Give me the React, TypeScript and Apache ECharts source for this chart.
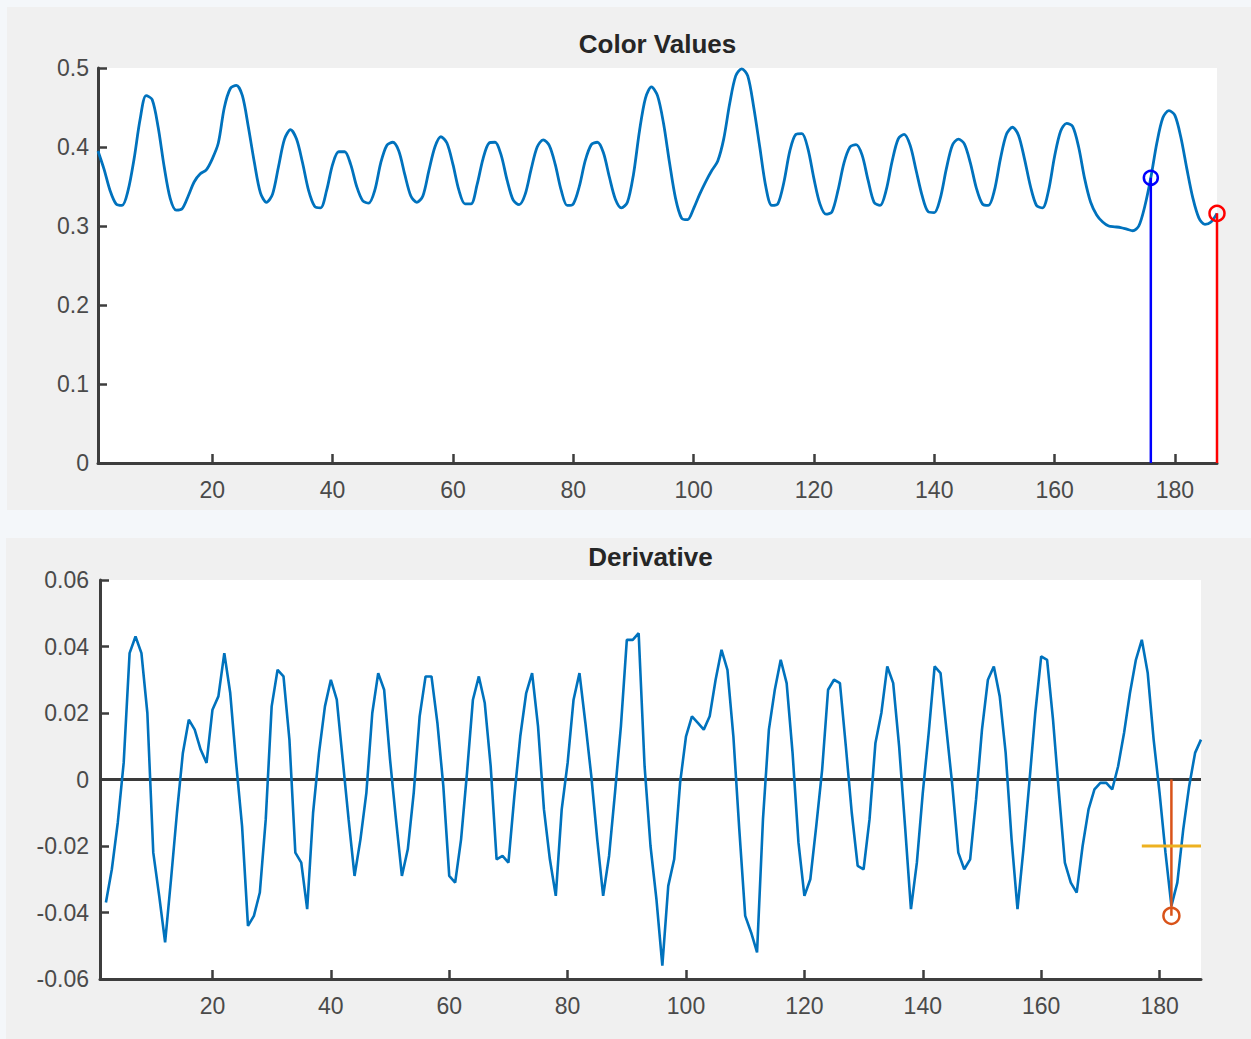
import { useEffect, useRef } from "react";
import * as echarts from "echarts";

// ---- data ----
const colorValues: number[] = [
  0.395, 0.372, 0.345, 0.328, 0.326, 0.345, 0.385, 0.435, 0.465, 0.46,
  0.425, 0.375, 0.335, 0.32, 0.322, 0.338, 0.356, 0.366, 0.371, 0.385,
  0.405, 0.45, 0.474, 0.478, 0.465, 0.425, 0.38, 0.342, 0.33, 0.34,
  0.375, 0.41, 0.422, 0.41, 0.38, 0.345, 0.325, 0.323, 0.345, 0.378,
  0.394, 0.394, 0.378, 0.35, 0.332, 0.329, 0.345, 0.38, 0.402, 0.406,
  0.395, 0.365, 0.338, 0.33, 0.338, 0.37, 0.4, 0.413, 0.405, 0.378,
  0.345, 0.328, 0.328, 0.352, 0.385, 0.405, 0.406, 0.39, 0.358, 0.333,
  0.327, 0.34, 0.372, 0.4, 0.409, 0.402, 0.378, 0.345, 0.326, 0.328,
  0.35, 0.383, 0.403, 0.406, 0.393, 0.362, 0.334, 0.323, 0.33, 0.365,
  0.42, 0.462, 0.476, 0.465, 0.43, 0.38, 0.335, 0.31, 0.308, 0.322,
  0.34, 0.356, 0.37, 0.382, 0.41, 0.455, 0.49, 0.499, 0.49, 0.45,
  0.4, 0.35, 0.326, 0.328, 0.355, 0.395, 0.416, 0.417, 0.398, 0.36,
  0.328, 0.315, 0.318, 0.345, 0.38, 0.4, 0.403, 0.39, 0.358, 0.33,
  0.326, 0.345, 0.382, 0.41, 0.416, 0.402, 0.37, 0.338, 0.318, 0.317,
  0.335, 0.372, 0.402, 0.41, 0.404, 0.38, 0.348, 0.328, 0.326, 0.345,
  0.385, 0.416, 0.425, 0.415, 0.385, 0.35, 0.326, 0.323, 0.345, 0.388,
  0.42, 0.43, 0.426, 0.4, 0.36, 0.33, 0.314, 0.305, 0.3, 0.299,
  0.298, 0.296, 0.294, 0.3, 0.325, 0.361, 0.405, 0.437, 0.446, 0.44,
  0.412, 0.372, 0.335, 0.31, 0.302, 0.305, 0.316,
];
const colorStartIndex = 1;

const derivValues: number[] = [
  -0.037, -0.027, -0.013, 0.005, 0.038, 0.043, 0.038, 0.02, -0.022, -0.035,
  -0.049, -0.03, -0.01, 0.008, 0.018, 0.015, 0.009, 0.005, 0.021, 0.025,
  0.038, 0.026, 0.005, -0.014, -0.044, -0.041, -0.034, -0.012, 0.022, 0.033,
  0.031, 0.012, -0.022, -0.025, -0.039, -0.01, 0.008, 0.022, 0.03, 0.024,
  0.006, -0.012, -0.029, -0.018, -0.004, 0.02, 0.032, 0.027, 0.006, -0.012,
  -0.029, -0.021, -0.004, 0.019, 0.031, 0.031, 0.017, -0.002, -0.029, -0.031,
  -0.018, 0.002, 0.024, 0.031, 0.023, 0.004, -0.024, -0.023, -0.025, -0.005,
  0.013, 0.026, 0.032, 0.016, -0.009, -0.024, -0.035, -0.009, 0.005, 0.024,
  0.032, 0.017, 0.001, -0.018, -0.035, -0.023, -0.004, 0.016, 0.042, 0.042,
  0.044, 0.004, -0.02, -0.036, -0.056, -0.032, -0.024, -0.001, 0.013, 0.019,
  0.017, 0.015, 0.019, 0.03, 0.039, 0.033, 0.013, -0.015, -0.041, -0.046,
  -0.052, -0.012, 0.015, 0.027, 0.036, 0.029, 0.008, -0.019, -0.035, -0.03,
  -0.014, 0.003, 0.027, 0.03, 0.029, 0.01, -0.01, -0.026, -0.027, -0.012,
  0.011, 0.02, 0.034, 0.029, 0.01, -0.014, -0.039, -0.025, -0.004, 0.014,
  0.034, 0.032, 0.015, -0.002, -0.022, -0.027, -0.024, -0.006, 0.015, 0.03,
  0.034, 0.025, 0.008, -0.018, -0.039, -0.021, -0.001, 0.02, 0.037, 0.036,
  0.018, -0.004, -0.025, -0.031, -0.034, -0.02, -0.009, -0.003, -0.001, -0.001,
  -0.003, 0.004, 0.014, 0.026, 0.036, 0.042, 0.032, 0.012, -0.004, -0.022,
  -0.038, -0.031, -0.015, -0.002, 0.008, 0.012,
];
const derivStartIndex = 2;

const xRange = [1, 187];
const xTickValues = [20, 40, 60, 80, 100, 120, 140, 160, 180];
const colorYRange = [0, 0.5];
const colorYStep = 0.1;
const derivYRange = [-0.06, 0.06];
const derivYStep = 0.02;

const blueStemX = 176;
const redStemX = 187;
const orangeStemX = 182;
const orangeStemValue = -0.041;
const thresholdValue = -0.02;
const thresholdRange = [177, 187];

const titles = ["Color Values", "Derivative"];

// ---- styles ----
const LINE_BLUE = "#0072BD";
const AXIS_COLOR = "#3d3d3d";
const LABEL_COLOR = "#4a4a4a";
const FONT = '"Liberation Sans", Arial, Helvetica, sans-serif';

export default function App() {
  const ref = useRef<HTMLDivElement>(null);

  useEffect(() => {
    if (!ref.current) return;
    const chart = echarts.init(ref.current, undefined, { renderer: "svg" });

    const colorData = colorValues.map((v, k) => [colorStartIndex + k, v]);
    const derivData = derivValues.map((v, k) => [derivStartIndex + k, v]);
    const blueY = colorValues[blueStemX - colorStartIndex];
    const redY = colorValues[redStemX - colorStartIndex];

    const grids = [
      { left: 98, top: 68, width: 1119, height: 395 },
      { left: 100, top: 580, width: 1101, height: 399 },
    ].map((g) => ({ ...g, show: true, backgroundColor: "#ffffff", borderWidth: 0 }));

    const xAxisBase = (gridIndex: number) => ({
      type: "value",
      gridIndex,
      min: xRange[0],
      max: xRange[1],
      axisLine: { show: true, onZero: false, lineStyle: { color: AXIS_COLOR, width: 3 } },
      axisTick: {
        show: true,
        inside: true,
        length: 9,
        customValues: xTickValues,
        lineStyle: { color: AXIS_COLOR, width: 2.5 },
      },
      axisLabel: {
        show: true,
        customValues: xTickValues,
        margin: 15,
        color: LABEL_COLOR,
        fontSize: 23,
        lineHeight: 23,
        fontFamily: FONT,
      },
      splitLine: { show: false },
    });

    const yAxisBase = (gridIndex: number, range: number[], step: number, digits: number, margin: number) => ({
      type: "value",
      gridIndex,
      min: range[0],
      max: range[1],
      interval: step,
      axisLine: { show: true, onZero: false, lineStyle: { color: AXIS_COLOR, width: 3 } },
      axisTick: { show: true, inside: true, length: 9, lineStyle: { color: AXIS_COLOR, width: 2.5 } },
      axisLabel: {
        show: true,
        margin,
        color: LABEL_COLOR,
        fontSize: 23,
        fontFamily: FONT,
        formatter: (v: number) => String(Math.round(v * Math.pow(10, digits)) / Math.pow(10, digits)),
      },
      splitLine: { show: false },
    });

    const stem = (
      xAxisIndex: number,
      x: number,
      y: number,
      color: string,
      size: number
    ) => ({
      type: "line",
      xAxisIndex,
      yAxisIndex: xAxisIndex,
      data: [
        { value: [x, 0], symbol: "none" },
        { value: [x, y] },
      ],
      symbol: "circle",
      symbolSize: size,
      showSymbol: true,
      lineStyle: { color, width: 2.5 },
      itemStyle: { color: "rgba(0,0,0,0)", borderColor: color, borderWidth: 2.5 },
      emphasis: { disabled: true },
      silent: true,
      z: 4,
    });

    const option = {
      animation: false,
      backgroundColor: "#f4f7fa",
      grid: grids,
      graphic: [
        { type: "rect", z: -10, shape: { x: 7, y: 7, width: 1244, height: 503 }, style: { fill: "#f0f0f0" } },
        { type: "rect", z: -10, shape: { x: 6, y: 538, width: 1245, height: 501 }, style: { fill: "#f0f0f0" } },
        {
          type: "text",
          x: 657.5,
          y: 44,
          style: {
            text: titles[0],
            fill: "#262626",
            font: `bold 26px ${FONT}`,
            textAlign: "center",
            textVerticalAlign: "middle",
          },
        },
        {
          type: "text",
          x: 650.5,
          y: 557,
          style: {
            text: titles[1],
            fill: "#262626",
            font: `bold 26px ${FONT}`,
            textAlign: "center",
            textVerticalAlign: "middle",
          },
        },
      ],
      xAxis: [xAxisBase(0), xAxisBase(1)],
      yAxis: [
        yAxisBase(0, colorYRange, colorYStep, 1, 9),
        yAxisBase(1, derivYRange, derivYStep, 2, 11),
      ],
      series: [
        {
          type: "line",
          xAxisIndex: 0,
          yAxisIndex: 0,
          data: colorData,
          showSymbol: false,
          symbol: "none",
          smooth: 0.3,
          lineStyle: { color: LINE_BLUE, width: 2.8 },
          silent: true,
          z: 3,
        },
        stem(0, blueStemX, blueY, "#0000ff", 14),
        stem(0, redStemX, redY, "#ff0000", 15),
        {
          type: "line",
          xAxisIndex: 1,
          yAxisIndex: 1,
          data: [
            [xRange[0], 0],
            [xRange[1], 0],
          ],
          showSymbol: false,
          symbol: "none",
          lineStyle: { color: "#3a3a3a", width: 3 },
          silent: true,
          z: 2,
        },
        {
          type: "line",
          xAxisIndex: 1,
          yAxisIndex: 1,
          data: derivData,
          showSymbol: false,
          symbol: "none",
          lineStyle: { color: LINE_BLUE, width: 2.6 },
          silent: true,
          z: 3,
        },
        stem(1, orangeStemX, orangeStemValue, "#D95319", 16),
        {
          type: "line",
          xAxisIndex: 1,
          yAxisIndex: 1,
          data: [
            [thresholdRange[0], thresholdValue],
            [thresholdRange[1], thresholdValue],
          ],
          showSymbol: false,
          symbol: "none",
          lineStyle: { color: "#EDB120", width: 3 },
          silent: true,
          z: 4,
        },
      ],
    };

    chart.setOption(option as any);
    return () => chart.dispose();
  }, []);

  return (
    <div
      ref={ref}
      style={{ position: "fixed", left: 0, top: 0, width: 1251, height: 1039 }}
    />
  );
}
